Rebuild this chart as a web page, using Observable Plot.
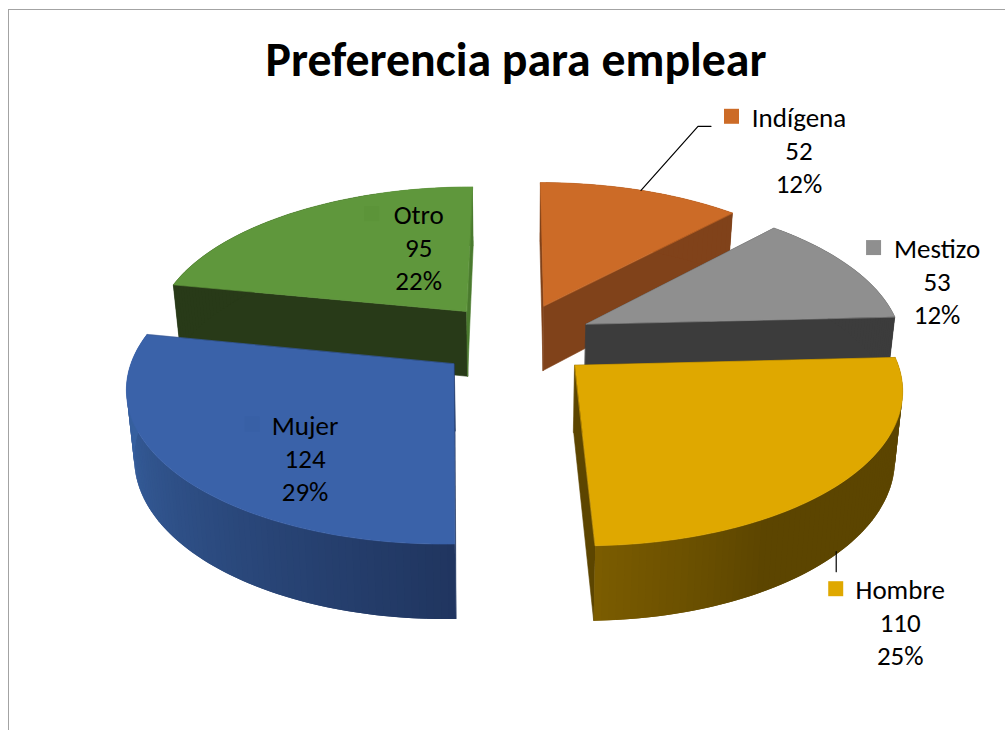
<!DOCTYPE html>
<html>
<head>
<meta charset="utf-8">
<script src="https://cdn.jsdelivr.net/npm/d3@7"></script>
<script src="https://cdn.jsdelivr.net/npm/@observablehq/plot@0.6"></script>
<style>
html,body{margin:0;padding:0;background:#fff;overflow:hidden;width:1005px;height:730px}
#frame{position:absolute;left:8px;top:9px;width:1100px;height:800px;border:1px solid #a3a3a3;box-sizing:border-box;pointer-events:none}
#chart{position:absolute;left:0;top:0}
</style>
</head>
<body>
<div id="chart"></div>
<div id="frame"></div>
<script>
// ---- data ----
const names = ["Indígena", "Mestizo", "Hombre", "Mujer", "Otro"];
const values = [52, 53, 110, 124, 95];
const titleText = "Preferencia para emplear";

// ---- styles ----
const topColors  = ["#cc6b27", "#8f8f8f", "#dfa800", "#3a62a9", "#5f973c"];
const wallColors = ["#80421a", "#3c3c3c", "#5c4500", "#20355f", "#283a18"];
const endFaceColors = ["#80421a", "#3c3c3c", "#5c4500", "#20355f", "#4a7a2e"];
const keyColors  = ["#cc6b27", "#8f8f8f", "#dfa800", "#3860a6", "#5c9439"];
const font = "Carlito, Lato, 'Open Sans', sans-serif";

// ---- the projection of the exploded pie ----
const cam = {cx: 515, cy: 339, k: 316, m: 148.5, p: 0.135, explode: 0.25, depth: 66, baseShrink: 0.98};
const drawOrder = [0, 4, 1, 2, 3];
// offset of each label block from the rim point of its slice, and of its key from the block
const labelOffset = [[158, -41], [87, 14], [57, 140], [128, -17], [125, 34]];
const keyOffset = [[-67.5, -33], [-63.5, -33], [-64.5, -33], [-53, -33], [-47, -33]];
const leaders = [[[0, 0], [57, -64], [70, -64]], [], [[-7, 70], [-7, 90]], [], []];

const total = d3.sum(values);
const arcs = d3.pie().sort(null).value(d => d)(values);

function project(i, angle, r, lower) {
  const {cx, cy, k, m, p, explode, depth, baseShrink} = cam;
  const mid = (arcs[i].startAngle + arcs[i].endAngle) / 2;
  const X = explode * Math.sin(mid) + r * Math.sin(angle);
  const D = explode * Math.cos(mid) + r * Math.cos(angle);
  const s = 1 / (1 + p * D);
  return {
    x: cx + k * X * s * (lower ? baseShrink : 1),
    y: cy - m * D * s + (lower ? depth * Math.pow(s, 0.75) : 0)
  };
}

function wallShade(i, angle) {
  const deg = angle * 180 / Math.PI;
  if (i === 2) { // Hombre: lit toward the cut edge
    return d3.interpolateRgb("#5c4500", "#7b5c00")(Math.max(0, Math.min(1, (deg - 150) / 28)));
  }
  if (i === 3) { // Mujer: dark at the cut edge, lighter to the left
    return d3.interpolateRgb("#20355f", "#37609f")(Math.max(0, Math.min(1, (deg - 178) / 85)));
  }
  if (i === 4 && deg > 340) return endFaceColors[4];
  return wallColors[i];
}

const faces = [];
let fid = 0;
function addFace(points, color, line = color) {
  const id = fid++;
  for (const pt of points) faces.push({...pt, id, color, line});
}
for (const i of drawOrder) {
  const a0 = arcs[i].startAngle, a1 = arcs[i].endAngle;
  // flat cut faces
  addFace([project(i, a0, 0), project(i, a0, 1), project(i, a0, 1, true), project(i, a0, 0, true)], wallColors[i]);
  addFace([project(i, a1, 0), project(i, a1, 1), project(i, a1, 1, true), project(i, a1, 0, true)], endFaceColors[i]);
  // curved outer wall: each strip runs under the next so no seam shows
  const n = Math.ceil((a1 - a0) / 0.02);
  for (let j = 0; j < n; ++j) {
    const u = a0 + (a1 - a0) * j / n, v = a0 + (a1 - a0) * Math.min(j + 2, n) / n;
    addFace([project(i, u, 1), project(i, v, 1), project(i, v, 1, true), project(i, u, 1, true)], wallShade(i, u + (a1 - a0) / n / 2), "none");
  }
  // top face
  const rim = d3.range(n + 1).map(j => project(i, a0 + (a1 - a0) * j / n, 1));
  addFace([project(i, a0, 0), ...rim], topColors[i]);
}

const rimPoint = i => project(i, (arcs[i].startAngle + arcs[i].endAngle) / 2, 1);

const labelMarks = names.flatMap((name, i) => {
  const a = rimPoint(i);
  const [dx, dy] = labelOffset[i];
  const [kx, ky] = keyOffset[i];
  const pct = d3.format(".0%")(values[i] / total);
  const leader = leaders[i].map(([ox, oy]) => ({x: a.x + ox, y: a.y + oy}));
  return [
    leader.length ? Plot.line(leader, {x: "x", y: "y", stroke: "#000", strokeWidth: 1.2}) : null,
    Plot.dot([a], {x: "x", y: "y", dx: dx + kx, dy: dy + ky, symbol: "square", r: 8.46, fill: keyColors[i], stroke: "none"}),
    Plot.text([a], {
      x: "x", y: "y", dx, dy,
      text: () => `${name}\n${values[i]}\n${pct}`,
      lineHeight: 1.22, fontSize: 27, fontFamily: font, fill: "#000", textAnchor: "middle"
    })
  ];
});

const plot = Plot.plot({
  width: 1005, height: 730,
  margin: 0,
  style: {background: "transparent"},
  x: {domain: [0, 1005], range: [0, 1005], axis: null},
  y: {domain: [0, 730], range: [0, 730], axis: null},
  color: {type: "identity"},
  marks: [
    Plot.line(faces, {x: "x", y: "y", z: "id", fill: "color", stroke: "line", strokeWidth: 0.6, curve: "linear-closed"}),
    ...labelMarks,
    Plot.text([titleText], {
      frameAnchor: "top", dx: 13, dy: 42,
      fontSize: 47.8, fontWeight: 700, fontFamily: font, fill: "#000", textAnchor: "middle"
    })
  ]
});
document.getElementById("chart").appendChild(plot);
</script>
</body>
</html>
